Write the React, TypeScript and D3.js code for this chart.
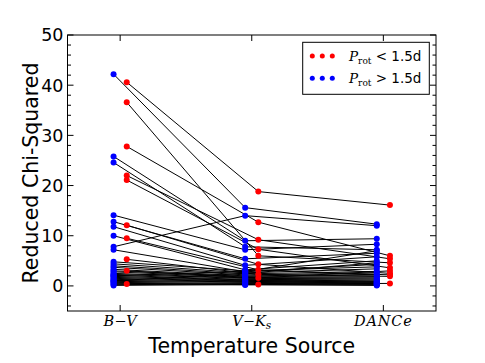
import React from 'react';
import * as d3 from 'd3';

// temperature sources on the x axis
const sources = ['B\u2212V', 'V\u2212K', 'DANCe'];
const yTicks = [0, 10, 20, 30, 40, 50];

// reduced chi-squared per star: [B-V, V-Ks, DANCe]
const fastStars = [
  [40.6, 18.8, 16.1],
  [36.6, 6.0, 4.6],
  [27.8, 12.7, 6.0],
  [22.0, 9.2, 5.4],
  [21.1, 7.3, 3.6],
  [12.1, 4.3, 2.5],
  [9.5, 3.2, 2.2],
  [5.3, 2.3, 1.9],
  [3.0, 1.6, 3.0],
  [0.4, 0.3, 0.5],
];

const slowStars = [
  [42.2, 15.6, 12.3],
  [25.8, 9.0, 9.4],
  [24.6, 7.8, 7.2],
  [14.1, 7.2, 8.3],
  [12.8, 5.4, 6.5],
  [11.8, 4.1, 5.8],
  [10.0, 3.2, 5.0],
  [7.8, 14.0, 12.0],
  [7.2, 2.8, 4.3],
  [4.8, 3.0, 3.8],
  [4.4, 2.6, 3.4],
  [4.0, 2.4, 2.9],
  [3.7, 2.2, 2.6],
  [3.3, 2.0, 2.3],
  [3.0, 1.9, 2.0],
  [2.8, 1.7, 1.8],
  [2.5, 1.6, 1.6],
  [2.3, 1.5, 1.4],
  [2.1, 1.3, 1.2],
  [1.9, 1.2, 1.0],
  [1.7, 1.1, 0.9],
  [1.5, 1.0, 0.8],
  [1.3, 0.9, 0.7],
  [1.1, 0.8, 0.6],
  [0.9, 0.7, 0.5],
  [0.7, 0.5, 0.4],
  [0.5, 0.4, 0.3],
  [0.3, 0.2, 0.2],
  [0.1, 0.3, 0.1],
  [2.0, 2.9, 7.0],
  [1.0, 2.5, 4.6],
];

const W = 485;
const H = 363;
const margin = { left: 67.5, right: 49, top: 35, bottom: 52 };

export default function App() {
  const x = d3.scaleLinear().domain([0.6, 3.4]).range([margin.left, W - margin.right]);
  const y = d3.scaleLinear().domain([-5, 50]).range([H - margin.bottom, margin.top]);

  const starLine = (vals: number[], off: number) =>
    d3.line<number>()
      .x((_, i) => x(i + 1 + off))
      .y(d => y(d))(vals) || '';

  const minor = d3.range(-4, 51, 2).filter(v => v % 10 !== 0);
  const x0 = margin.left, x1 = W - margin.right;
  const y0 = margin.top, y1 = H - margin.bottom;

  const sans = 'DejaVu Sans, sans-serif';
  const serif = 'DejaVu Serif, serif';

  return (
    <div style={{ position: 'absolute', left: 0, top: 0 }}>
      <svg width={W} height={H} style={{ display: 'block', background: '#fff' }}>
        {/* connecting lines */}
        <g stroke="#000" strokeWidth={1} fill="none">
          {slowStars.map((s, i) => <path key={'sl' + i} d={starLine(s, -0.05)} />)}
          {fastStars.map((s, i) => <path key={'fl' + i} d={starLine(s, 0.05)} />)}
        </g>
        {/* points */}
        <g fill="#0000ff">
          {slowStars.map((s, i) => s.map((v, j) => (
            <circle key={'sp' + i + '-' + j} cx={x(j + 1 - 0.05)} cy={y(v)} r={3} />
          )))}
        </g>
        <g fill="#ff0000">
          {fastStars.map((s, i) => s.map((v, j) => (
            <circle key={'fp' + i + '-' + j} cx={x(j + 1 + 0.05)} cy={y(v)} r={3} />
          )))}
        </g>

        {/* frame */}
        <rect x={x0} y={y0} width={x1 - x0} height={y1 - y0} fill="none" stroke="#000" strokeWidth={1} />

        {/* ticks, inward on all four sides */}
        <g stroke="#000" strokeWidth={1}>
          {yTicks.map(t => (
            <g key={'yt' + t}>
              <line x1={x0} x2={x0 + 6} y1={y(t)} y2={y(t)} />
              <line x1={x1} x2={x1 - 6} y1={y(t)} y2={y(t)} />
            </g>
          ))}
          {minor.map(t => (
            <g key={'ym' + t}>
              <line x1={x0} x2={x0 + 3.5} y1={y(t)} y2={y(t)} />
              <line x1={x1} x2={x1 - 3.5} y1={y(t)} y2={y(t)} />
            </g>
          ))}
          {sources.map((_, i) => (
            <g key={'xt' + i}>
              <line x1={x(i + 1)} x2={x(i + 1)} y1={y1} y2={y1 - 6} />
              <line x1={x(i + 1)} x2={x(i + 1)} y1={y0} y2={y0 + 6} />
            </g>
          ))}
        </g>

        {/* y tick labels */}
        <g fontFamily={sans} fontSize={17.5} textAnchor="end">
          {yTicks.map(t => (
            <text key={'yl' + t} x={x0 - 4} y={y(t) + 6.4}>{t}</text>
          ))}
        </g>

        {/* x tick labels */}
        <g fontFamily={serif} fontStyle="italic" fontSize={14.5} textAnchor="middle">
          <text x={x(1)} y={326}>B<tspan fontStyle="normal">{'\u2212'}</tspan>V</text>
          <text x={x(2)} y={326}>V<tspan fontStyle="normal">{'\u2212'}</tspan>K<tspan fontSize={10.5} dy={3}>s</tspan></text>
          <text x={x(3)} y={326} letterSpacing={0.8}>DANCe</text>
        </g>

        {/* axis titles */}
        <text x={(x0 + x1) / 2} y={353} textAnchor="middle" fontFamily={sans} fontSize={20.5}>Temperature Source</text>
        <text transform={`translate(38,${(y0 + y1) / 2}) rotate(-90)`} textAnchor="middle" fontFamily={sans} fontSize={20.5}>Reduced Chi-Squared</text>

        {/* legend */}
        <g>
          <rect x={302.7} y={42.3} width={126.6} height={52} fill="#fff" stroke="#000" strokeWidth={1} />
          {[312.3, 322.3, 332.3].map(cx => (
            <circle key={'lr' + cx} cx={cx} cy={56} r={2.5} fill="#ff0000" />
          ))}
          {[312.3, 322.3, 332.3].map(cx => (
            <circle key={'lb' + cx} cx={cx} cy={78.3} r={2.5} fill="#0000ff" />
          ))}
          <text x={349} y={61} fontFamily={sans} fontSize={13.5}>
            <tspan fontFamily={serif} fontStyle="italic">P</tspan>
            <tspan fontFamily={serif} fontSize={9} dy={3}>rot</tspan>
            <tspan dy={-3}>{' < 1.5d'}</tspan>
          </text>
          <text x={349} y={83.3} fontFamily={sans} fontSize={13.5}>
            <tspan fontFamily={serif} fontStyle="italic">P</tspan>
            <tspan fontFamily={serif} fontSize={9} dy={3}>rot</tspan>
            <tspan dy={-3}>{' > 1.5d'}</tspan>
          </text>
        </g>
      </svg>
    </div>
  );
}
